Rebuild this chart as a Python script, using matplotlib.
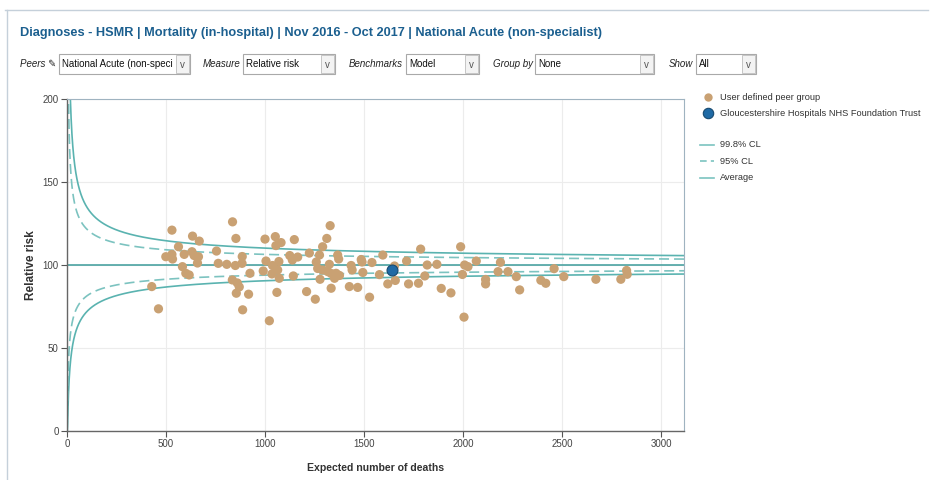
import numpy as np
import matplotlib
matplotlib.use("Agg")
import matplotlib.pyplot as plt
from matplotlib.patches import Rectangle
from matplotlib.lines import Line2D

# ---------------- data ----------------
peer_expected = [428, 462, 499, 530, 530, 533, 563, 592, 583, 600, 617, 634, 668, 631, 642, 664, 659,
                 755, 764, 807, 836, 853, 885, 884, 850, 835, 860, 870, 855, 917, 924, 887, 1022,
                 1000, 1052, 1081, 1055, 991, 1005, 1038, 1070, 1064, 1035, 1072, 1060, 1148, 1125,
                 1138, 1143, 1165, 1224, 1210, 1254, 1259, 1266, 1275, 1278, 1291, 1312, 1329, 1291,
                 1325, 1317, 1334, 1334, 1367, 1372, 1359, 1376, 1351, 1426, 1435, 1440, 1468, 1486,
                 1490, 1494, 1528, 1540, 1578, 1595, 1620, 1658, 1654, 1715, 1725, 1775, 1786, 1807,
                 1819, 1868, 1890, 1939, 1988, 2008, 2025, 1997, 2005, 2067, 2114, 2114, 2189, 2177,
                 2227, 2269, 2286, 2393, 2418, 2460, 2509, 2671, 2797, 2826, 2829]
peer_rr = [87.0, 73.6, 105.0, 121.0, 106.4, 103.6, 111.0, 106.4, 99.0, 95.0, 94.0, 117.4, 114.4, 108.0,
           105.7, 105.0, 101.2, 108.4, 101.0, 100.4, 126.0, 116.0, 105.1, 101.0, 99.7, 91.0, 89.2, 86.8,
           83.0, 82.4, 95.0, 73.0, 66.4, 115.6, 117.1, 113.5, 111.7, 96.4, 102.4, 99.7, 102.1, 97.0,
           94.6, 92.0, 83.5, 115.3, 105.7, 103.0, 93.4, 104.8, 107.2, 84.0, 79.4, 101.8, 97.9, 106.0,
           91.4, 111.0, 116.0, 123.7, 97.0, 100.4, 96.0, 94.9, 86.0, 106.0, 103.6, 95.0, 93.7, 92.0,
           87.0, 99.7, 97.0, 86.5, 103.3, 101.8, 95.5, 80.6, 101.5, 94.2, 106.0, 88.6, 90.7, 99.4,
           102.4, 88.6, 89.0, 109.6, 93.4, 100.0, 100.4, 85.9, 83.2, 111.0, 100.0, 99.0, 94.3, 68.6,
           102.4, 91.3, 88.6, 101.6, 96.0, 96.0, 93.0, 85.0, 90.8, 89.0, 97.8, 93.0, 91.4, 91.4, 96.7,
           94.4]
trust_expected = [1640]
trust_rr = [97.0]

average_rr = 100
cl_z = {"99.8% CL": 3.09, "95% CL": 1.96}
x_ticks = [0, 500, 1000, 1500, 2000, 2500, 3000]
y_ticks = [0, 50, 100, 150, 200]

title = "Diagnoses - HSMR | Mortality (in-hospital) | Nov 2016 - Oct 2017 | National Acute (non-specialist)"

# ---------------- style ----------------
W, H = 934, 480
FONT = ["Liberation Sans", "DejaVu Sans"]
plt.rcParams["font.family"] = FONT

TEAL = "#5ab3b0"
TEAL_L = "#7cc3c0"
TEAL_D = "#3d9c9a"
TAN = "#c9a173"
BLUE = "#1f6aa5"
TITLE_C = "#1b5f8f"

fig = plt.figure(figsize=(W / 100, H / 100), dpi=100)


def fx(px):
    return px / W


def fy(py):
    return 1 - py / H


# panel border
fig.add_artist(Line2D([fx(5), fx(928)], [fy(10), fy(10)], color="#c5d0da", lw=1))
fig.add_artist(Line2D([fx(7), fx(7)], [fy(10), fy(480)], color="#c5d0da", lw=1))

fig.text(fx(20), fy(33), title, color=TITLE_C, fontsize=9.2, fontweight="bold",
         va="center", ha="left")

# controls row
controls = [("Peers", 20, 59, 190, "National Acute (non-speci"),
            ("Measure", 203, 243, 335, "Relative risk"),
            ("Benchmarks", 349, 406, 479, "Model"),
            ("Group by", 493, 535, 654, "None"),
            ("Show", 669, 696, 756, "All")]
cy = 64
for lab, lx, bx0, bx1, val in controls:
    fig.text(fx(lx), fy(cy), lab + (" \u270e" if lab == "Peers" else ""),
             fontsize=7, style="italic", color="#222222", va="center", ha="left",
             family=FONT)
    fig.add_artist(Rectangle((fx(bx0), fy(74)), fx(bx1 - bx0), 20 / H,
                             facecolor="white", edgecolor="#a9a9a9", lw=0.8))
    fig.add_artist(Rectangle((fx(bx1 - 14), fy(73)), fx(13), 18 / H,
                             facecolor="#f3f3f3", edgecolor="#bdbdbd", lw=0.6))
    fig.text(fx(bx1 - 7.5), fy(cy + 1), "v", fontsize=7, color="#555555",
             va="center", ha="center")
    fig.text(fx(bx0 + 3), fy(cy), val, fontsize=7, color="#111111", va="center", ha="left")

# axes
L, R, T, B = 67, 684, 99, 431
ax = fig.add_axes([fx(L), fy(B), fx(R - L), (B - T) / H])
ax.set_xlim(0, 3116)
ax.set_ylim(0, 200)

ax.set_xticks(x_ticks)
ax.set_yticks(y_ticks)
ax.grid(True, color="#ececec", lw=0.8)
ax.set_axisbelow(True)
for s in ["top", "right"]:
    ax.spines[s].set_color("#9fb3c0")
    ax.spines[s].set_linewidth(0.8)
for s in ["left", "bottom"]:
    ax.spines[s].set_color("#666666")
    ax.spines[s].set_linewidth(1.0)
ax.tick_params(axis="both", length=4, width=0.8, color="#555555", labelsize=7,
               labelcolor="#444444", pad=2)

E = np.linspace(0.05, 3116, 6000)
for name, z in cl_z.items():
    solid = z > 3
    ls = "-" if solid else (0, (6, 3))
    col = TEAL if solid else TEAL_L
    Ep = E + 1
    upper = Ep * (1 - 1 / (9 * Ep) + z / (3 * np.sqrt(Ep))) ** 3 / E * average_rr
    lower_base = np.clip(1 - 1 / (9 * E) - z / (3 * np.sqrt(E)), 0, None)
    lower = lower_base ** 3 * average_rr
    ax.plot(E, upper, color=col, lw=1.2, ls=ls, zorder=2)
    ax.plot(E, lower, color=col, lw=1.2, ls=ls, zorder=2)
ax.axhline(average_rr, color=TEAL_D, lw=1.1, zorder=2)

ax.scatter(peer_expected, peer_rr, s=44, color=TAN, edgecolors="none", zorder=3)
ax.scatter(trust_expected, trust_rr, s=62, color=BLUE, edgecolors="#174a70", lw=0.8, zorder=4)

ax.set_ylabel("Relative risk", fontsize=8.5, fontweight="bold", color="#333333", labelpad=4)
ax.set_xlabel("Expected number of deaths", fontsize=7.6, fontweight="bold", color="#333333",
              labelpad=10)

# legend (manual)
lx = 708
LF = 6.7
fig.add_artist(Line2D([fx(lx)], [fy(97)], marker="o", ms=6, color=TAN, mec="none"))
fig.text(fx(720), fy(97), "User defined peer group", fontsize=LF, color="#333333", va="center")
fig.add_artist(Line2D([fx(lx)], [fy(113)], marker="o", ms=7.5, color=BLUE, mec="#174a70", mew=0.8))
fig.text(fx(720), fy(113), "Gloucestershire Hospitals NHS Foundation Trust", fontsize=LF,
         color="#333333", va="center")
fig.add_artist(Line2D([fx(700), fx(714)], [fy(145), fy(145)], color=TEAL_L, lw=1.2))
fig.text(fx(720), fy(145), "99.8% CL", fontsize=LF, color="#333333", va="center")
fig.add_artist(Line2D([fx(700), fx(714)], [fy(161), fy(161)], color=TEAL_L, lw=1.2, ls=(0, (4, 2.5))))
fig.text(fx(720), fy(161), "95% CL", fontsize=LF, color="#333333", va="center")
fig.add_artist(Line2D([fx(700), fx(714)], [fy(178), fy(178)], color=TEAL_L, lw=1.2))
fig.text(fx(720), fy(178), "Average", fontsize=LF, color="#333333", va="center")

fig.savefig("out.png", dpi=100)
